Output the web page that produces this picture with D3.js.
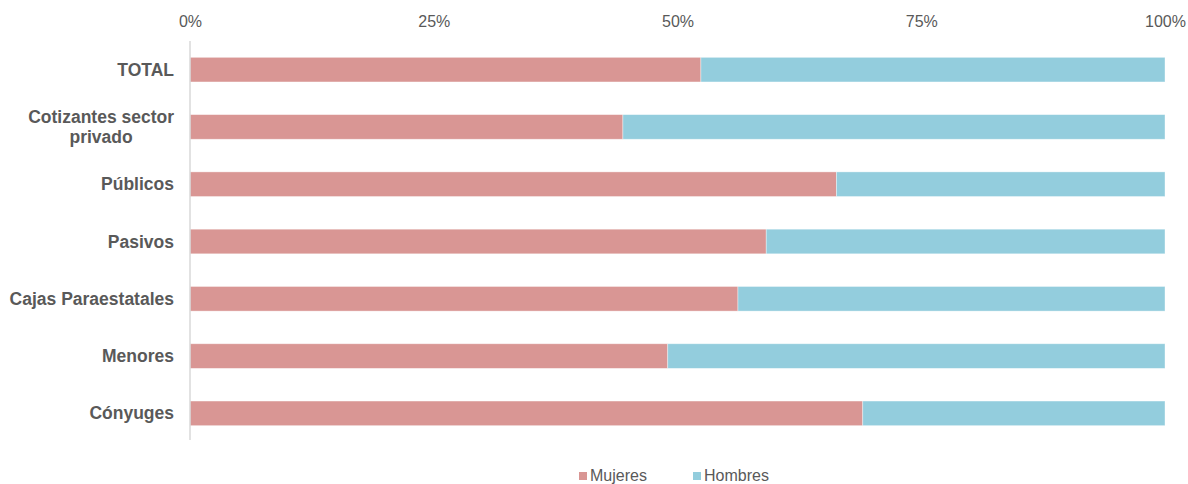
<!DOCTYPE html>
<html><head><meta charset="utf-8">
<script src="https://cdn.jsdelivr.net/npm/d3@7"></script>
<style>body{margin:0;background:#fff}svg{display:block}</style>
</head><body>
<svg id="c" width="1188" height="484"></svg>
<script>
const categories = ["TOTAL", "Cotizantes sector privado", "Públicos", "Pasivos", "Cajas Paraestatales", "Menores", "Cónyuges"];
const mujeres = [52.4, 44.4, 66.3, 59.1, 56.2, 49.0, 69.0];
const hombres = [47.6, 55.6, 33.7, 40.9, 43.8, 51.0, 31.0];
const seriesNames = ["Mujeres", "Hombres"];
const seriesColors = ["#d99694", "#93cddd"];
const tickValues = [0, 0.25, 0.5, 0.75, 1];

const svg = d3.select("#c");
const font = "'Liberation Sans', Arial, sans-serif";
const textColor = "#595959";

const x = d3.scaleLinear().domain([0, 1]).range([190, 1165]);
const y = d3.scaleBand().domain(categories).range([41, 442]).paddingInner(0.57).paddingOuter(0.285);

const rows = categories.map((c, i) => {
  const tot = mujeres[i] + hombres[i];
  return {cat: c, m: mujeres[i] / tot, h: hombres[i] / tot};
});
const stack = d3.stack().keys(["m", "h"])(rows);

// top axis
const xAxis = d3.axisTop(x).tickValues(tickValues).tickFormat(d3.format(".0%")).tickSize(0).tickPadding(0);
const gx = svg.append("g").attr("transform", "translate(0,27)").call(xAxis);
gx.select(".domain").remove();
gx.selectAll("text").attr("font-family", font).attr("font-size", 16).attr("fill", textColor).attr("dy", 0);

// bars
svg.append("g").selectAll("g").data(stack).join("g")
  .attr("fill", (d, i) => seriesColors[i])
  .selectAll("rect").data(d => d).join("rect")
  .attr("x", d => x(d[0]))
  .attr("width", d => x(d[1]) - x(d[0]))
  .attr("y", d => y(d.data.cat))
  .attr("height", y.bandwidth())
  .attr("stroke", "#ffffff").attr("stroke-opacity", 0.5).attr("stroke-width", 0.75);

// left axis line
svg.append("line").attr("x1", x(0)).attr("x2", x(0)).attr("y1", 41).attr("y2", 440)
  .attr("stroke", "#d9d9d9").attr("stroke-width", 1.5);

// category labels
const yAxis = d3.axisLeft(y).tickSize(0).tickPadding(0);
const gy = svg.append("g").attr("transform", "translate(174,0)").call(yAxis);
gy.select(".domain").remove();
gy.selectAll("text").attr("font-family", font).attr("font-size", 17.5).attr("font-weight", "bold")
  .attr("fill", textColor).attr("text-anchor", "end").attr("dy", "0.35em")
  .each(function(d) {
    if (d === "Cotizantes sector privado") {
      const t = d3.select(this).text(null).attr("dy", null).attr("text-anchor", "middle");
      const t1 = t.append("tspan").attr("dy", "-0.22em").text("Cotizantes sector");
      const w = t1.node().getComputedTextLength();
      t1.attr("x", -w / 2);
      t.append("tspan").attr("x", -w / 2).attr("dy", "1.12em").text("privado");
    }
  });

// legend
const legendX = [579, 693];
const lg = svg.append("g");
seriesNames.forEach((n, i) => {
  lg.append("rect").attr("x", legendX[i]).attr("y", 472).attr("width", 8).attr("height", 8).attr("fill", seriesColors[i]);
  lg.append("text").attr("x", legendX[i] + 11).attr("y", 481).attr("font-family", font).attr("font-size", 16)
    .attr("fill", textColor).text(n);
});
</script>
</body></html>
